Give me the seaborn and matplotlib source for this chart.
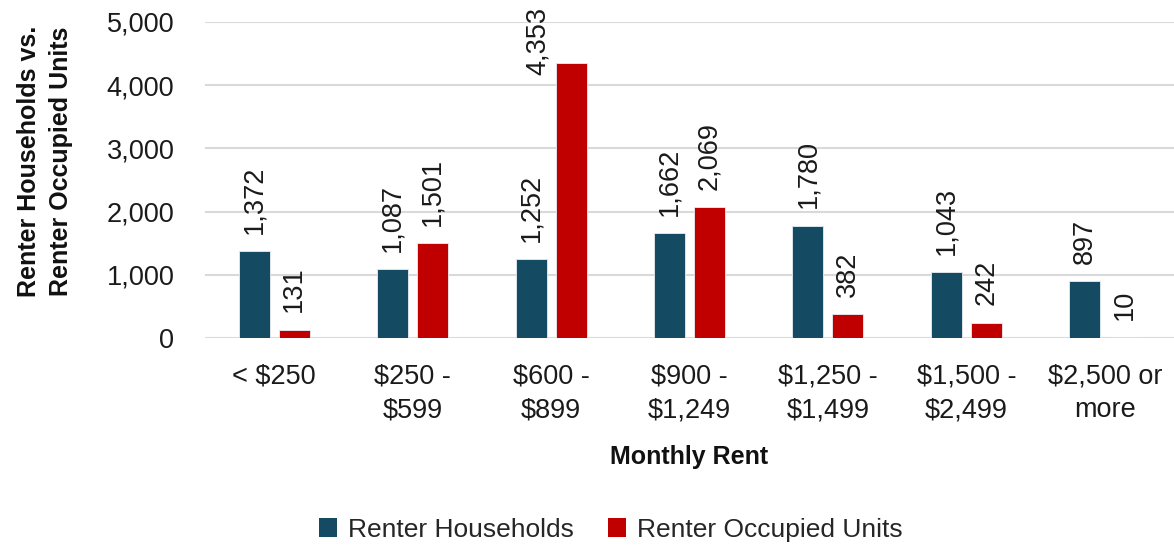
import matplotlib
matplotlib.use("Agg")
import matplotlib.pyplot as plt
import seaborn as sns
import pandas as pd
from matplotlib.patches import Patch

categories = ["< $250", "$250 -\n$599", "$600 -\n$899", "$900 -\n$1,249",
              "$1,250 -\n$1,499", "$1,500 -\n$2,499", "$2,500 or\nmore"]
renter_households = [1372, 1087, 1252, 1662, 1780, 1043, 897]
renter_occupied_units = [131, 1501, 4353, 2069, 382, 242, 10]
series_names = ["Renter Households", "Renter Occupied Units"]
colors = ["#154A63", "#C00000"]

df = pd.DataFrame({
    "Monthly Rent": categories * 2,
    "Value": renter_households + renter_occupied_units,
    "Series": [series_names[0]] * len(categories) + [series_names[1]] * len(categories),
})

sns.set_theme(style="white")
plt.rcParams["font.family"] = ["Liberation Sans", "DejaVu Sans"]

fig = plt.figure(figsize=(11.74, 5.48), dpi=100)
ax = fig.add_axes([0.1746, 0.383, 0.8254, 0.577])

sns.barplot(data=df, x="Monthly Rent", y="Value", hue="Series", order=categories,
            hue_order=series_names, palette=colors, saturation=1, width=0.578, gap=0.225,
            edgecolor="#E8EEF2", linewidth=0.6, legend=False, ax=ax)

ymax = 5000
for cont in ax.containers:
    normal = []
    for bar, v in zip(cont, cont.datavalues):
        if v > 0.8 * ymax:
            # label too tall to fit above: place beside the bar, like the reference
            normal.append("")
            ax.annotate(f"{v:,.0f}", xy=(bar.get_x() + bar.get_width() / 2, v),
                        xytext=(-24, 15.5), textcoords="offset points",
                        rotation=90, ha="center", va="center", fontsize=19.5,
                        color="#1a1a1a", annotation_clip=False)
        else:
            normal.append(f"{v:,.0f}")
    ax.bar_label(cont, labels=normal, rotation=90, padding=12.5, fontsize=19.5,
                 color="#1a1a1a")

ax.set_ylim(0, ymax)
ax.set_xlim(-0.5, 6.5)
ax.set_yticks([0, 1000, 2000, 3000, 4000, 5000])
ax.set_yticklabels([f"{v:,}" for v in [0, 1000, 2000, 3000, 4000, 5000]])
ax.yaxis.grid(True, color="#D9D9D9", linewidth=1.5)
ax.set_axisbelow(True)
for s in ax.spines.values():
    s.set_visible(False)
ax.tick_params(axis="y", length=0, pad=22, labelsize=19.5, labelcolor="#1a1a1a")
ax.tick_params(axis="x", length=0, pad=18, labelsize=19.5, labelcolor="#1a1a1a")
for t in ax.get_xticklabels():
    t.set_linespacing(1.4)

ax.set_xlabel("Monthly Rent", fontsize=18, fontweight="bold", labelpad=16, color="#111111")
ax.set_ylabel("Renter Households vs.\nRenter Occupied Units", fontsize=18,
              fontweight="bold", labelpad=24, color="#111111", linespacing=1.45)
ax.yaxis.label.set_y(0.56)

handles = [Patch(facecolor=c, edgecolor="none") for c in colors]
fig.legend(handles, series_names, loc="center", bbox_to_anchor=(0.52, 0.033),
           ncol=2, frameon=False, fontsize=19, handlelength=0.7, handleheight=0.7,
           handletextpad=0.4, columnspacing=1.3)

fig.savefig("out.png", dpi=100)
